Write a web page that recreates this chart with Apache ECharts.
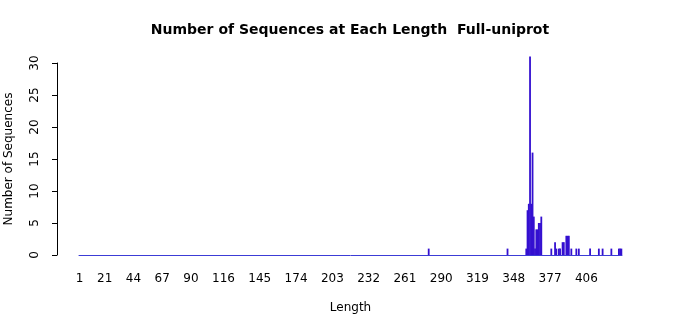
<!DOCTYPE html>
<html>
<head>
<meta charset="utf-8">
<script src="https://cdn.jsdelivr.net/npm/echarts@6/dist/echarts.min.js"></script>
<style>html,body{margin:0;padding:0;background:#fff}#c{width:700px;height:315px}</style>
</head>
<body>
<div id="c"></div>
<script>
// Data
const minLength = 1;
const maxLength = 434;
const lengths = [280, 343, 358, 359, 360, 361, 362, 363, 364, 365, 366, 367, 368, 369, 370, 378, 381, 382, 384, 385, 387, 388, 390, 391, 392, 394, 398, 400, 409, 416, 419, 426, 432, 433, 434];
const counts  = [1,   1,   1,   7,   8,   31,  8,   16,  6,   1,   4,   4,   5,   5,   6,   1,   2,   1,   1,   1,   2,   2,   3,   3,   3,   1,   1,   1,   1,   1,   1,   1,   1,   1,   1];
const xTickLabels = ['1', '21', '44', '67', '90', '116', '145', '174', '203', '232', '261', '290', '319', '348', '377', '406'];
const yTicks = [0, 5, 10, 15, 20, 25, 30];

const categories = [];
const values = [];
const countByLength = {};
lengths.forEach((l, i) => { countByLength[l] = counts[i]; });
for (let l = minLength; l <= maxLength; l++) {
  categories.push(String(l));
  values.push(countByLength[l] || 0);
}

const font = 'DejaVu Sans';
const chart = echarts.init(document.getElementById('c'), null, { renderer: 'canvas' });
chart.setOption({
  animation: false,
  backgroundColor: '#ffffff',
  title: {
    text: 'Number of Sequences at Each Length  Full-uniprot',
    left: 'center',
    top: 18,
    textStyle: { fontFamily: font, fontSize: 14, fontWeight: 'bold', color: '#000' }
  },
  grid: { left: 79, right: 78, top: 63, bottom: 60, containLabel: false, outerBoundsMode: 'none' },
  xAxis: {
    type: 'category',
    data: categories,
    boundaryGap: true,
    name: 'Length',
    nameLocation: 'middle',
    nameGap: 47,
    nameTextStyle: { fontFamily: font, fontSize: 12, color: '#000', verticalAlign: 'top' },
    axisLine: { show: true, lineStyle: { color: '#3c3cd6', width: 1 } },
    axisTick: { show: false },
    axisLabel: {
      fontFamily: font, fontSize: 12, color: '#000', margin: 18,
      interval: (idx, val) => xTickLabels.indexOf(val) >= 0
    },
    splitLine: { show: false }
  },
  yAxis: {
    type: 'value',
    min: yTicks[0],
    max: yTicks[yTicks.length - 1],
    interval: yTicks[1] - yTicks[0],
    offset: 22,
    name: 'Number of Sequences',
    nameLocation: 'middle',
    nameGap: 42,
    nameTextStyle: { fontFamily: font, fontSize: 12, color: '#000' },
    axisLine: { show: true, lineStyle: { color: '#000', width: 1 } },
    axisTick: { show: true, inside: false, length: 5, lineStyle: { color: '#000' } },
    axisLabel: { fontFamily: font, fontSize: 12, color: '#000', rotate: 90, margin: 16 },
    splitLine: { show: false }
  },
  series: [{
    type: 'bar',
    data: values,
    barWidth: 1.8,
    clip: false,
    itemStyle: { color: '#3410d0' }
  }]
});
</script>
</body>
</html>
